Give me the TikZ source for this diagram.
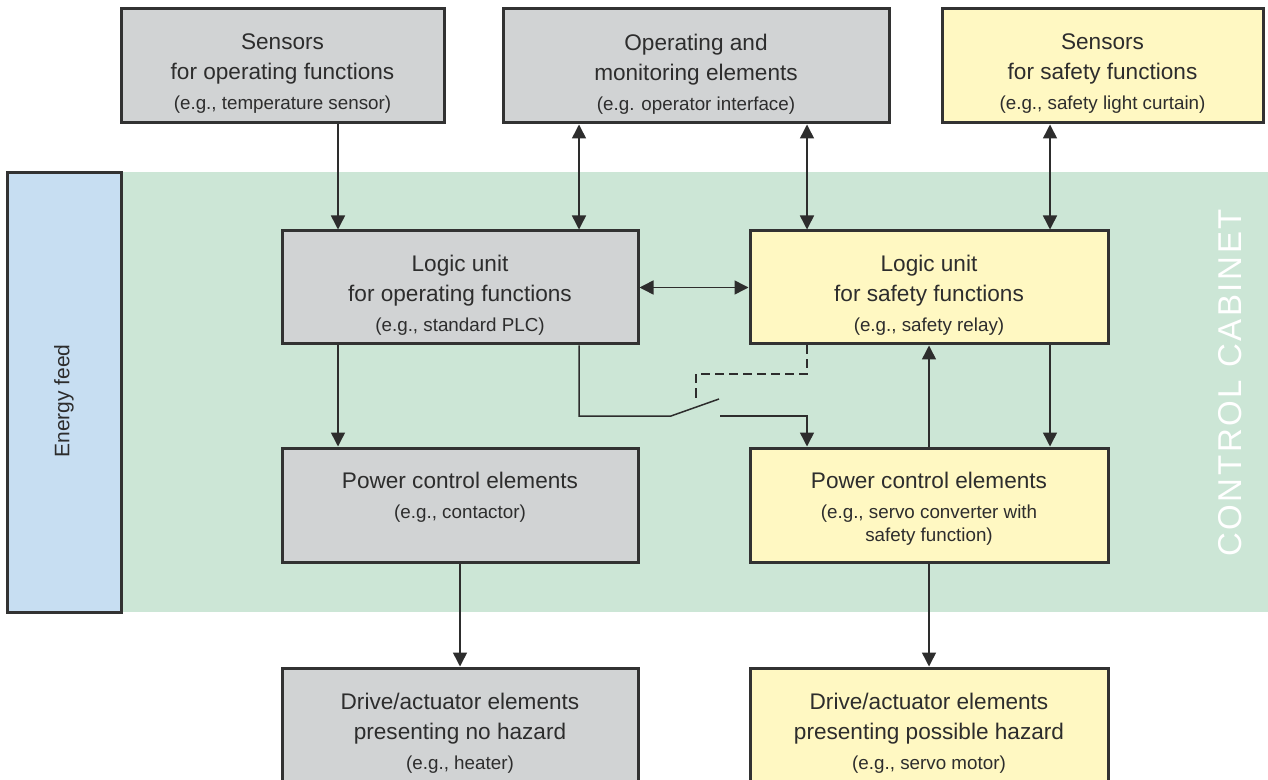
\documentclass[tikz,border=0pt]{standalone}
\usepackage{fontspec}
\setmainfont{Liberation Sans}
\newfontfamily\cabfont[LetterSpace=8]{Liberation Sans}
\usetikzlibrary{arrows.meta, positioning}
\definecolor{boxgray}{RGB}{209,211,212}
\definecolor{safeyellow}{RGB}{255,248,194}
\definecolor{cabgreen}{RGB}{204,230,214}
\definecolor{feedblue}{RGB}{199,222,242}
\definecolor{edgegray}{RGB}{50,50,50}
\definecolor{inkgray}{RGB}{45,45,45}
\newcommand{\egsize}{\fontsize{9.4}{11.5}\selectfont}

\begin{document}
\begin{tikzpicture}[
    x=0.5pt, y=-0.5pt,
    font=\fontsize{11.3}{15}\selectfont,
    box/.style={draw=edgegray, line width=1.5pt, fill=#1, inner sep=0pt, minimum height=57pt},
    box/.default=boxgray,
    txt/.style={text=inkgray, align=center, inner sep=0pt},
    wire/.style={draw=inkgray, line width=0.75pt},
    arr/.style={wire, -{Triangle[length=7pt, width=7pt]}},
    darr/.style={wire, {Triangle[length=7pt, width=7pt]}-{Triangle[length=7pt, width=7pt]}}
]

    \useasboundingbox (0,0) rectangle (1268,780);
    \clip (0,0) rectangle (1268,780);
    \fill[white] (0,0) rectangle (1268,780);

    % ==========================================
    % COORDINATES
    % ==========================================
    % Connector columns
    \coordinate (col_a) at (338,0);
    \coordinate (col_b) at (579,0);
    \coordinate (col_c) at (807,0);
    \coordinate (col_d) at (1050,0);

    % Switch contact
    \coordinate (sw_in)    at (671,416);
    \coordinate (sw_blade) at (719,399);
    \coordinate (sw_out)   at (720,416);

    % Dashed actuation of the switch
    \coordinate (dsh_turn) at (696,374);
    \coordinate (dsh_end)  at (696,402);


    % ==========================================
    % CONTROL CABINET & ENERGY FEED
    % ==========================================
    \fill[cabgreen] (122,172) rectangle (1268,612);

    \node[box=feedblue, minimum width=57pt, minimum height=219.5pt] (feed) at (64,392.5) {};
    \node[txt, rotate=90, font=\fontsize{10.5}{12}\selectfont] (feed_txt) at (64,401) {Energy feed};

    \node[txt, text=white, rotate=90, font=\cabfont\fontsize{16.5}{18}\selectfont] (cab_txt) at (1230,383) {CONTROL CABINET};


    % ==========================================
    % BOXES
    % ==========================================
    % Top row
    \node[box, minimum width=161.5pt] (sop) at (282.5,66) {};
    \node[box, minimum width=193pt] (omn) at (696,66) {};
    \node[box=safeyellow, minimum width=160.5pt] (ssf) at (1102.5,66) {};

    % Logic units
    \node[box, minimum width=178pt, minimum height=56.5pt] (lop) at (460,287.5) {};
    \node[box=safeyellow, minimum width=179pt, minimum height=56.5pt] (lsf) at (929,287.5) {};

    % Power control
    \node[box, minimum width=178pt] (pop) at (460,505) {};
    \node[box=safeyellow, minimum width=179pt] (psf) at (929,505) {};

    % Drives (cut by the lower edge)
    \node[box, minimum width=178pt, minimum height=61pt] (dop) at (460,729) {};
    \node[box=safeyellow, minimum width=179pt, minimum height=61pt] (dsf) at (929,729) {};


    % ==========================================
    % BOX TEXTS
    % ==========================================
    \node[txt, below=13pt] (sop_txt) at (sop.north)
        {Sensors\\ for operating functions\\ {\egsize (e.g., temperature sensor)}};
    \node[txt, below=13pt] (omn_txt) at (omn.north)
        {Operating and\\ monitoring elements\\ {\egsize (e.g. operator interface)}};
    \node[txt, below=13pt] (ssf_txt) at (ssf.north)
        {Sensors\\ for safety functions\\ {\egsize (e.g., safety light curtain)}};

    \node[txt, below=12.5pt] (lop_txt) at (lop.north)
        {Logic unit\\ for operating functions\\ {\egsize (e.g., standard PLC)}};
    \node[txt, below=12.5pt] (lsf_txt) at (lsf.north)
        {Logic unit\\ for safety functions\\ {\egsize (e.g., safety relay)}};

    \node[txt, below=12.5pt] (pop_txt) at (pop.north)
        {Power control elements\\ {\egsize (e.g., contactor)}};
    \node[txt, below=12.5pt] (psf_txt) at (psf.north)
        {Power control elements\\ {\egsize (e.g., servo converter with}\\[-3.5pt] {\egsize safety function)}};

    \node[txt, below=13pt] (dop_txt) at (dop.north)
        {Drive/actuator elements\\ presenting no hazard\\ {\egsize (e.g., heater)}};
    \node[txt, below=13pt] (dsf_txt) at (dsf.north)
        {Drive/actuator elements\\ presenting possible hazard\\ {\egsize (e.g., servo motor)}};


    % ==========================================
    % CONNECTORS
    % ==========================================
    \draw[arr]  (sop.south -| col_a) -- (lop.north -| col_a);
    \draw[darr] (omn.south -| col_b) -- (lop.north -| col_b);
    \draw[darr] (omn.south -| col_c) -- (lsf.north -| col_c);
    \draw[darr] (ssf.south -| col_d) -- (lsf.north -| col_d);

    \draw[darr] (lop.east) -- (lsf.west);

    \draw[arr] (lop.south -| col_a) -- (pop.north -| col_a);
    \draw[arr] (lsf.south -| col_d) -- (psf.north -| col_d);
    \draw[arr] (psf.north) -- (lsf.south);

    \draw[arr] (pop.south) -- (dop.north);
    \draw[arr] (psf.south) -- (dsf.north);

    % Switch in the line from the standard PLC
    \draw[wire] (lop.south -| col_b) |- (sw_in) -- (sw_blade);
    \draw[arr] (sw_out) -| (psf.north -| col_c);
    \draw[wire, dash pattern=on 4.5pt off 2.5pt] (lsf.south -| col_c) |- (dsh_turn) -- (dsh_end);

\end{tikzpicture}
\end{document}
